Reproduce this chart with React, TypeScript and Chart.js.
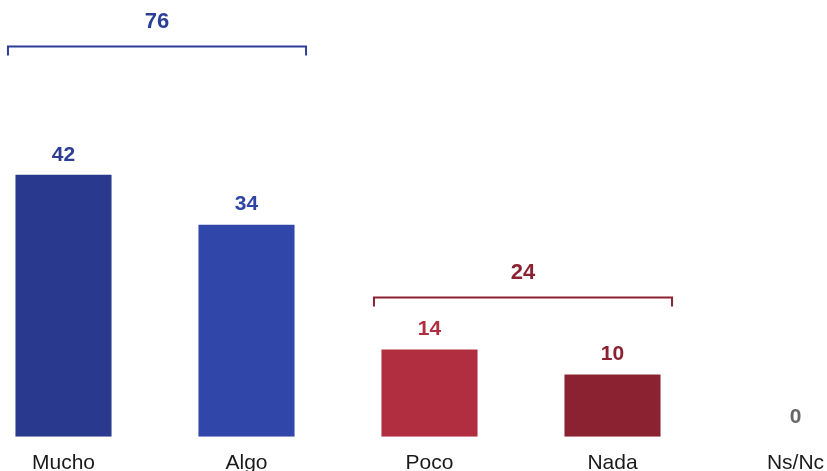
import React, { useEffect, useRef } from "react";
import { Chart, registerables } from "chart.js";

Chart.register(...registerables);

const categories = ["Mucho", "Algo", "Poco", "Nada", "Ns/Nc"];
const values = [42, 34, 14, 10, 0];
const barColors = ["#29398d", "#3047a9", "#b02e3f", "#8b2231", "#8a8a8a"];
const labelColors = ["#2c3d93", "#2f45a6", "#b02e3f", "#8b2231", "#666666"];

const groupStart = [0, 2];
const groupEnd = [1, 3];
const groupTotals = [76, 24];
const groupLevels = [62.7, 22.4];
const groupColors = ["#2c3f96", "#8b2231"];

const annotatePlugin = {
  id: "annotate",
  afterDatasetsDraw(chart: any) {
    const ctx = chart.ctx;
    const meta = chart.getDatasetMeta(0);
    const yScale = chart.scales.y;
    ctx.save();
    ctx.textAlign = "center";
    ctx.textBaseline = "middle";
    ctx.font = "bold 21px 'Liberation Sans', Arial, sans-serif";
    meta.data.forEach((bar: any, i: number) => {
      ctx.fillStyle = labelColors[i];
      ctx.fillText(String(values[i]), bar.x, bar.y - 20);
    });
    groupStart.forEach((s: number, g: number) => {
      const a = meta.data[s];
      const b = meta.data[groupEnd[g]];
      const x1 = a.x - a.width / 2 - 7.5;
      const x2 = b.x + b.width / 2 + 11.5;
      const y = Math.round(yScale.getPixelForValue(groupLevels[g])) + 0.5;
      ctx.strokeStyle = groupColors[g];
      ctx.lineWidth = 2;
      ctx.beginPath();
      ctx.moveTo(x1, y + 9);
      ctx.lineTo(x1, y);
      ctx.lineTo(x2, y);
      ctx.lineTo(x2, y + 9);
      ctx.stroke();
      ctx.fillStyle = groupColors[g];
      ctx.font = "bold 22px 'Liberation Sans', Arial, sans-serif";
      ctx.fillText(String(groupTotals[g]), (x1 + x2) / 2, y - 25);
    });
    ctx.restore();
  },
};

export default function App() {
  const ref = useRef<HTMLCanvasElement | null>(null);
  useEffect(() => {
    if (!ref.current) return;
    const chart = new Chart(ref.current, {
      type: "bar",
      data: {
        labels: categories,
        datasets: [
          {
            data: values,
            backgroundColor: barColors,
            borderWidth: 0,
            barPercentage: 0.525,
            categoryPercentage: 1,
          },
        ],
      },
      options: {
        animation: false,
        responsive: false,
        devicePixelRatio: 1,
        layout: { padding: 0 },
        plugins: { legend: { display: false }, tooltip: { enabled: false } },
        scales: {
          x: {
            offset: true,
            grid: { display: false, drawTicks: false },
            border: { display: false },
            ticks: {
              color: "#1a1a1a",
              padding: 14,
              maxRotation: 0,
              autoSkip: false,
              font: { family: "'Liberation Sans', Arial, sans-serif", size: 21 },
            },
          },
          y: { display: false, min: 0, max: 70 },
        },
      },
      plugins: [annotatePlugin],
    });
    return () => chart.destroy();
  }, []);
  return (
    <div style={{ position: "fixed", left: 0, top: 0, width: 827, height: 471, overflow: "hidden", background: "#fff" }}>
      <canvas ref={ref} width={915} height={490} style={{ position: "absolute", left: -28, top: 0 }} />
    </div>
  );
}
